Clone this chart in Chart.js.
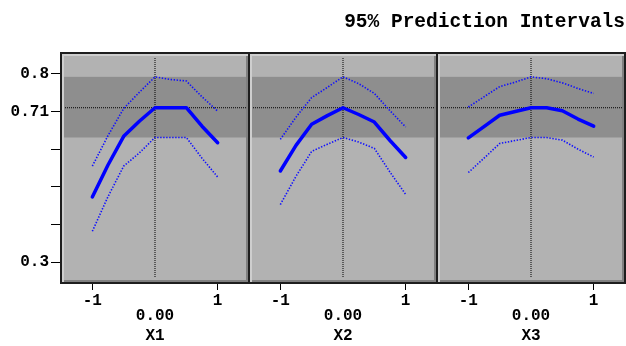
<!DOCTYPE html>
<html>
<head>
<meta charset="utf-8">
<title>95% Prediction Intervals</title>
<script src="https://cdn.jsdelivr.net/npm/chart.js"></script>
<style>
  body { margin: 0; background: #fff; }
  #wrap { position: relative; width: 626px; height: 346px; overflow: hidden; }
  #wrap canvas { position: absolute; top: 0; }
</style>
</head>
<body>
<div id="wrap">
  <canvas id="panel1" width="253" height="346" style="left:0px"></canvas>
  <canvas id="panel2" width="196" height="346" style="left:245px"></canvas>
  <canvas id="panel3" width="299" height="346" style="left:330px"></canvas>
</div>
<script>
const chartTitle = '95% Prediction Intervals';
const factorNames = ['X1', 'X2', 'X3'];

// profile read at these settings of each factor
const xPoints = [-1, -0.75, -0.5, -0.25, 0, 0.25, 0.5, 0.75, 1];

const x1Fit   = [0.473, 0.558, 0.634, 0.674, 0.710, 0.710, 0.710, 0.661, 0.617];
const x1Upper = [0.555, 0.636, 0.708, 0.751, 0.792, 0.785, 0.781, 0.739, 0.701];
const x1Lower = [0.382, 0.474, 0.555, 0.590, 0.631, 0.631, 0.631, 0.576, 0.526];

const x2Fit   = [0.542, 0.610, 0.666, 0.689, 0.710, 0.692, 0.672, 0.623, 0.578];
const x2Upper = [0.626, 0.685, 0.737, 0.764, 0.792, 0.774, 0.748, 0.702, 0.659];
const x2Lower = [0.453, 0.528, 0.594, 0.613, 0.631, 0.619, 0.602, 0.539, 0.480];

const x3Fit   = [0.630, 0.660, 0.690, 0.700, 0.710, 0.710, 0.702, 0.680, 0.661];
const x3Upper = [0.712, 0.739, 0.766, 0.778, 0.792, 0.787, 0.776, 0.761, 0.748];
const x3Lower = [0.538, 0.576, 0.615, 0.623, 0.631, 0.631, 0.624, 0.600, 0.579];

// current setting and its interval
const currentX = 0;
const currentY = 0.71;
const currentInterval = [0.631, 0.792];

const xTicks = [-1, 1];
const xTickLabels = ['-1', '1'];
const yTicks = [0.3, 0.4, 0.5, 0.6, 0.7, 0.8];
const yTickLabels = ['0.3', '', '', '', '0.71', '0.8'];

const xMin = -1.5, xMax = 1.5;
const yMin = 0.25, yMax = 0.85;

const labelFont = { family: 'Liberation Mono', weight: 'bold', size: 16 };

// grey bevelled panel with the darker interval band
const panelFrame = {
  id: 'panelFrame',
  beforeDatasetsDraw(chart) {
    const { ctx, chartArea, scales } = chart;
    const L = chartArea.left, R = chartArea.right, T = chartArea.top, B = chartArea.bottom;
    ctx.save();
    ctx.fillStyle = '#1e1e1e';
    ctx.fillRect(L - 1, T - 3, R - L + 2, B - T + 6);
    ctx.fillStyle = '#cecece';
    ctx.fillRect(L + 1, T - 1, R - L - 2, B - T + 2);
    ctx.fillStyle = '#808080';
    ctx.fillRect(L + 3, T + 1, R - L - 4, B - T);
    ctx.fillStyle = '#b2b2b2';
    ctx.fillRect(L + 3, T + 1, R - L - 6, B - T - 2);
    const hi = scales.y.getPixelForValue(currentInterval[1]);
    const lo = scales.y.getPixelForValue(currentInterval[0]);
    ctx.fillStyle = '#8e8e8e';
    ctx.fillRect(L + 3, hi, R - L - 6, lo - hi);
    ctx.restore();
  }
};

function toPoints(ys) {
  return xPoints.map((x, i) => ({ x: x, y: ys[i] }));
}

function renderPanel(canvasId, index, fit, upper, lower, axisWidth, showYLabels, showTitle) {
  const ctx = document.getElementById(canvasId).getContext('2d');
  const refClip = { left: -3, top: -3, right: -3, bottom: -3 };
  new Chart(ctx, {
    type: 'line',
    data: {
      datasets: [
        { data: toPoints(fit), borderColor: '#0000ff', borderWidth: 3.5,
          borderJoinStyle: 'round', borderCapStyle: 'round' },
        { data: toPoints(upper), borderColor: '#1010ff', borderWidth: 1.6, borderDash: [1.4, 1.6] },
        { data: toPoints(lower), borderColor: '#1010ff', borderWidth: 1.6, borderDash: [1.4, 1.6] },
        { data: [{ x: xMin, y: currentY }, { x: xMax, y: currentY }],
          borderColor: '#000', borderWidth: 1, borderDash: [1, 1], clip: refClip },
        { data: [{ x: currentX, y: yMin }, { x: currentX, y: yMax }],
          borderColor: '#000', borderWidth: 1, borderDash: [1, 1], clip: refClip }
      ]
    },
    options: {
      responsive: false,
      animation: false,
      devicePixelRatio: 1,
      layout: { padding: { top: showTitle ? 0 : 55, right: 4, bottom: 0, left: 0 } },
      elements: { point: { radius: 0 }, line: { tension: 0, fill: false } },
      plugins: {
        legend: { display: false },
        tooltip: { enabled: false },
        title: {
          display: showTitle,
          text: chartTitle,
          align: 'end',
          color: '#000',
          font: { family: 'Liberation Mono', weight: 'bold', size: 19.5, lineHeight: 1.2 },
          padding: { top: 10, bottom: 21.6 }
        }
      },
      scales: {
        x: {
          type: 'linear',
          min: xMin,
          max: xMax,
          afterBuildTicks: (scale) => { scale.ticks = xTicks.map((v) => ({ value: v })); },
          afterFit: (scale) => { scale.height = 65; },
          ticks: {
            autoSkip: false,
            maxRotation: 0,
            padding: 1,
            color: '#000',
            font: labelFont,
            callback: (value, i) => xTickLabels[i]
          },
          grid: { drawOnChartArea: false, drawTicks: true, tickLength: 9, tickColor: '#000', color: '#000' },
          border: { display: false },
          title: {
            display: true,
            text: [currentX.toFixed(2), factorNames[index]],
            color: '#000',
            font: { family: 'Liberation Mono', weight: 'bold', size: 16, lineHeight: 1.25 },
            padding: { top: 0, bottom: 0 }
          }
        },
        y: {
          type: 'linear',
          min: yMin,
          max: yMax,
          afterBuildTicks: (scale) => { scale.ticks = yTicks.map((v) => ({ value: v })); },
          afterFit: (scale) => { scale.width = axisWidth; },
          ticks: {
            display: showYLabels,
            padding: 2,
            color: '#000',
            font: labelFont,
            callback: (value, i) => yTickLabels[i]
          },
          grid: { display: showYLabels, drawOnChartArea: false, tickLength: 10, tickColor: '#000', color: '#000' },
          border: { display: false }
        }
      }
    },
    plugins: [panelFrame]
  });
}

renderPanel('panel1', 0, x1Fit, x1Upper, x1Lower, 61, true, false);
renderPanel('panel2', 1, x2Fit, x2Upper, x2Lower, 4, false, false);
renderPanel('panel3', 2, x3Fit, x3Upper, x3Lower, 107, false, true);
</script>
</body>
</html>
